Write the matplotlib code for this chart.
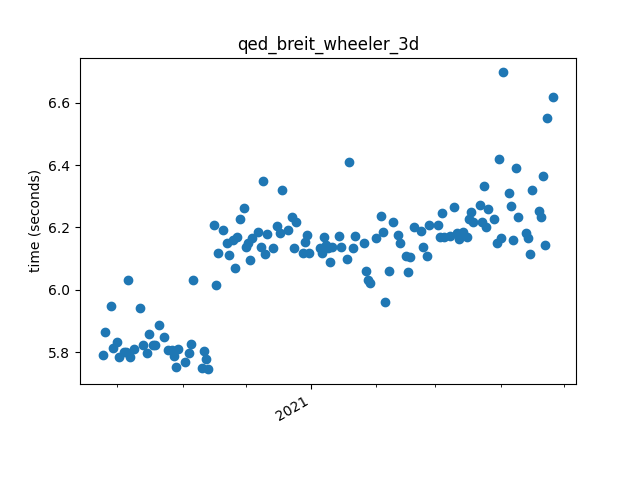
import matplotlib
matplotlib.use("Agg")
import matplotlib.pyplot as plt
import matplotlib.dates as mdates
import numpy as np

# benchmark run dates and run times
dates = [
    "2020-09-24", "2020-09-25", "2020-09-28", "2020-09-29", "2020-10-01",
    "2020-10-02", "2020-10-04", "2020-10-05", "2020-10-06", "2020-10-07",
    "2020-10-09", "2020-10-12", "2020-10-13", "2020-10-15", "2020-10-16",
    "2020-10-18", "2020-10-19", "2020-10-21", "2020-10-23", "2020-10-25",
    "2020-10-27", "2020-10-28", "2020-10-29", "2020-10-30", "2020-11-02",
    "2020-11-04", "2020-11-05", "2020-11-06", "2020-11-10", "2020-11-11",
    "2020-11-12", "2020-11-13", "2020-11-16", "2020-11-17", "2020-11-18",
    "2020-11-20", "2020-11-22", "2020-11-23", "2020-11-25", "2020-11-26",
    "2020-11-27", "2020-11-28", "2020-11-30", "2020-12-01", "2020-12-02",
    "2020-12-03", "2020-12-04", "2020-12-07", "2020-12-08", "2020-12-09",
    "2020-12-10", "2020-12-11", "2020-12-14", "2020-12-16", "2020-12-17",
    "2020-12-18", "2020-12-21", "2020-12-23", "2020-12-24", "2020-12-25",
    "2020-12-28", "2020-12-29", "2020-12-30", "2020-12-31", "2021-01-05",
    "2021-01-06", "2021-01-07", "2021-01-08", "2021-01-09", "2021-01-10",
    "2021-01-11", "2021-01-14", "2021-01-15", "2021-01-18", "2021-01-19",
    "2021-01-21", "2021-01-22", "2021-01-26", "2021-01-27", "2021-01-28",
    "2021-01-29", "2021-02-01", "2021-02-03", "2021-02-04", "2021-02-05",
    "2021-02-07", "2021-02-09", "2021-02-11", "2021-02-12", "2021-02-15",
    "2021-02-16", "2021-02-17", "2021-02-19", "2021-02-22", "2021-02-23",
    "2021-02-25", "2021-02-26", "2021-03-02", "2021-03-03", "2021-03-04",
    "2021-03-05", "2021-03-08", "2021-03-10", "2021-03-11", "2021-03-12",
    "2021-03-14", "2021-03-16", "2021-03-17", "2021-03-18", "2021-03-19",
    "2021-03-22", "2021-03-23", "2021-03-24", "2021-03-25", "2021-03-26",
    "2021-03-29", "2021-03-30", "2021-03-31", "2021-04-01", "2021-04-02",
    "2021-04-05", "2021-04-06", "2021-04-07", "2021-04-08", "2021-04-09",
    "2021-04-13", "2021-04-14", "2021-04-15", "2021-04-16", "2021-04-19",
    "2021-04-20", "2021-04-21", "2021-04-22", "2021-04-23", "2021-04-26",
]
times = [
    5.789, 5.863, 5.947, 5.812, 5.831,
    5.783, 5.799, 5.800, 6.030, 5.783,
    5.809, 5.940, 5.821, 5.796, 5.857,
    5.821, 5.821, 5.886, 5.847, 5.805,
    5.805, 5.786, 5.751, 5.809, 5.767,
    5.796, 5.825, 6.030, 5.748, 5.802,
    5.777, 5.745, 6.206, 6.014, 6.117,
    6.190, 6.149, 6.110, 6.158, 6.068,
    6.168, 6.226, 6.261, 6.136, 6.149,
    6.094, 6.165, 6.184, 6.136, 6.348,
    6.113, 6.178, 6.133, 6.203, 6.181,
    6.319, 6.190, 6.232, 6.133, 6.216,
    6.117, 6.152, 6.174, 6.117, 6.133,
    6.117, 6.168, 6.142, 6.133, 6.088,
    6.136, 6.171, 6.136, 6.097, 6.409,
    6.133, 6.171, 6.149, 6.059, 6.030,
    6.020, 6.165, 6.238, 6.184, 5.959,
    6.059, 6.216, 6.174, 6.149, 6.107,
    6.056, 6.104, 6.200, 6.187, 6.136,
    6.107, 6.206, 6.206, 6.168, 6.245,
    6.168, 6.171, 6.264, 6.181, 6.162,
    6.184, 6.168, 6.226, 6.248, 6.216,
    6.271, 6.216, 6.332, 6.200, 6.258,
    6.226, 6.149, 6.418, 6.165, 6.697,
    6.309, 6.267, 6.158, 6.392, 6.232,
    6.181, 6.165, 6.113, 6.319, 6.251,
    6.232, 6.364, 6.142, 6.550, 6.617,
]

x = np.array(dates, dtype="datetime64[D]")

fig, ax = plt.subplots(figsize=(6.4, 4.8), dpi=100)
ax.plot(x, times, "o")
ax.set_title("qed_breit_wheeler_3d")
ax.set_ylabel("time (seconds)")

ax.xaxis.set_major_locator(mdates.YearLocator())
ax.xaxis.set_major_formatter(mdates.DateFormatter("%Y"))
ax.xaxis.set_minor_locator(mdates.MonthLocator())
fig.autofmt_xdate()

fig.savefig("out.png")
